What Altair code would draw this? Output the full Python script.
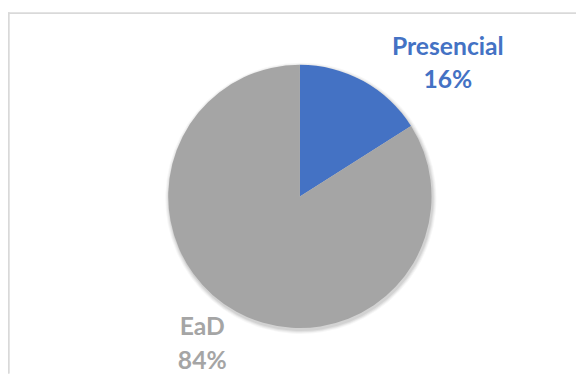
import altair as alt
import pandas as pd

categories = ["Presencial", "EaD"]
shares = [16, 84]
colors = ["#4472C4", "#A5A5A5"]

df = pd.DataFrame({"category": categories, "value": shares, "order": list(range(len(categories)))})

W, H = 576, 368
CX, CY, R = 296.0, 188.5, 133.5

color_scale = alt.Scale(domain=categories, range=colors)

shadows = []
for i, (dr, op) in enumerate([(4, 0.03), (3, 0.04), (2, 0.05), (1, 0.06)]):
    shadows.append(
        alt.Chart(df).mark_arc(radius=R + dr, color="#000000", opacity=op, stroke=None).encode(
            theta=alt.Theta("value:Q", stack=True),
            order=alt.Order("order:Q"),
            x=alt.value(CX + 1),
            y=alt.value(CY + 2),
        )
    )

pie = alt.Chart(df).mark_arc(radius=R, stroke=None).encode(
    theta=alt.Theta("value:Q", stack=True),
    color=alt.Color("category:N", scale=color_scale, legend=None),
    order=alt.Order("order:Q"),
    x=alt.value(CX),
    y=alt.value(CY),
)

label_pos = {"Presencial": (446, 45), "EaD": (197, 329)}
labels = []
for cat, col in zip(categories, colors):
    lx, ly = label_pos[cat]
    labels.append(
        alt.Chart(df)
        .transform_filter(alt.datum.category == cat)
        .transform_calculate(label="datum.category + '\\n' + datum.value + '%'")
        .mark_text(
            font="Lato", fontWeight="bold", fontSize=25, color=col,
            align="center", baseline="alphabetic", lineBreak="\n", lineHeight=34,
        )
        .encode(text="label:N", x=alt.value(lx), y=alt.value(ly))
    )

top_rule = alt.Chart(df).mark_rule(color="#D9D9D9", strokeWidth=1.5).encode(
    x=alt.value(0), x2=alt.value(W), y=alt.value(2.75)
)
left_rule = alt.Chart(df).mark_rule(color="#D9D9D9", strokeWidth=1.5).encode(
    x=alt.value(0.75), y=alt.value(2), y2=alt.value(H)
)

chart = alt.layer(top_rule, left_rule, *shadows, pie, *labels).properties(
    width=W, height=H, autosize=alt.AutoSizeParams(type="none"), padding=0,
    background="white",
).configure_view(stroke=None)

chart.save("out.html", embed_options={"renderer": "svg", "actions": False})
